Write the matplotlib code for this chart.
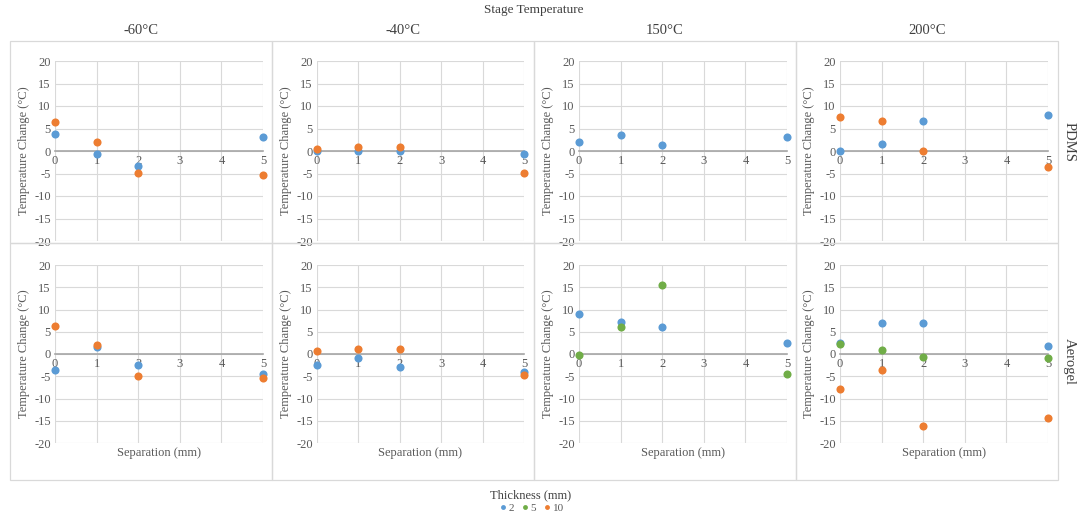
import matplotlib.pyplot as plt
from matplotlib.lines import Line2D
from matplotlib.patches import Rectangle

plt.rcParams['font.family'] = ['Liberation Serif', 'DejaVu Serif']
plt.rcParams['axes.unicode_minus'] = False

# Data
temps = ['-60°C', '-40°C', '150°C', '200°C']
materials = ['PDMS', 'Aerogel']
separation = [0, 1, 2, 5]
thickness_labels = ['2', '5', '10']
colors = ['#5B9BD5', '#70AD47', '#ED7D31']

# one list per stage temperature, values at each separation
pdms_t2 = [[3.85, -0.7, -3.4, 3.2], [0.0, -0.1, -0.1, -0.75],
           [2.1, 3.5, 1.3, 3.2], [0.0, 1.6, 6.6, 8.1]]
pdms_t5 = [None, None, None, None]
pdms_t10 = [[6.4, 2.0, -4.9, -5.3], [0.5, 1.0, 0.9, -4.9],
            None, [7.6, 6.6, -0.1, -3.5]]
aerogel_t2 = [[-3.6, 1.5, -2.5, -4.5], [-2.5, -1.0, -2.85, -4.0],
              [9.1, 7.3, 6.1, 2.5], [2.4, 7.0, 6.9, 1.8]]
aerogel_t5 = [None, None, [-0.3, 6.1, 15.4, -4.6], [2.3, 1.0, -0.6, -1.0]]
aerogel_t10 = [[6.4, 2.1, -4.9, -5.3], [0.6, 1.1, 1.05, -4.8],
               None, [-7.9, -3.7, -16.1, -14.4]]

series = {
    'PDMS': [pdms_t2, pdms_t5, pdms_t10],
    'Aerogel': [aerogel_t2, aerogel_t5, aerogel_t10],
}

W, H = 1089, 519
fig = plt.figure(figsize=(W / 100, H / 100), dpi=100)

def fx(x):
    return x / W

def fy(y):
    return 1 - y / H

# panel boxes (pixels)
col_box = [(10, 272), (272, 534), (534, 796), (796, 1058)]
row_box = [(41, 243), (243, 480)]
# plot areas (pixels)
col_plot = [(55, 263), (317, 524), (579, 787), (840, 1048)]
row_plot = [(61, 241), (265, 443)]

grid_c = '#D9D9D9'
text_c = '#595959'

for (x0, x1) in col_box:
    for (y0, y1) in row_box:
        fig.patches.append(Rectangle((fx(x0), fy(y1)), fx(x1 - x0), (y1 - y0) / H,
                                     transform=fig.transFigure, fill=False,
                                     edgecolor=grid_c, linewidth=0.9))

for r, mat in enumerate(materials):
    for c, temp in enumerate(temps):
        px0, px1 = col_plot[c]
        py0, py1 = row_plot[r]
        ax = fig.add_axes([fx(px0), fy(py1), fx(px1 - px0), (py1 - py0) / H])
        ax.set_xlim(0, 5)
        ax.set_ylim(-20, 20)
        ax.set_xticks(range(6))
        ax.set_yticks(range(-20, 21, 5))
        ax.grid(True, color=grid_c, linewidth=0.8)
        ax.set_axisbelow(True)
        for s in ['top', 'right', 'left']:
            ax.spines[s].set_visible(False)
        ax.spines['bottom'].set_position(('data', 0))
        ax.spines['bottom'].set_color('#A6A6A6')
        ax.spines['bottom'].set_linewidth(1.2)
        ax.tick_params(length=0, labelsize=9, colors=text_c, pad=3)
        ax.set_ylabel('Temperature Change (°C)', fontsize=9, color=text_c, labelpad=3)
        if r == 1:
            ax.set_xlabel('Separation (mm)', fontsize=9, color=text_c, labelpad=2)
            ax.xaxis.set_label_coords(0.5, -0.02)
        for k, data in enumerate(series[mat]):
            vals = data[c]
            if vals is None:
                continue
            ax.scatter(separation, vals, s=34, color=colors[k], zorder=3,
                       clip_on=False, linewidths=0)
        if r == 0:
            fig.text(fx((col_box[c][0] + col_box[c][1]) / 2), fy(31), temp,
                     ha='center', va='center', fontsize=10.5, color='#404040')
    fig.text(fx(1069), fy((row_box[r][0] + row_box[r][1]) / 2), mat,
             ha='center', va='center', rotation=270, fontsize=10.5, color='#404040')

fig.text(fx(534), fy(10), 'Stage Temperature', ha='center', va='center',
         fontsize=9.5, color='#404040')

handles = [Line2D([], [], marker='o', linestyle='none', markersize=3.5,
                  markerfacecolor=col, markeredgewidth=0, label=lab)
           for col, lab in zip(colors, thickness_labels)]
leg = fig.legend(handles=handles, loc='center', bbox_to_anchor=(fx(531), fy(501)),
                 ncol=3, frameon=False, fontsize=8, title='Thickness (mm)',
                 title_fontsize=9, handletextpad=0.1, columnspacing=0.6,
                 handlelength=0.8, borderpad=0.1, labelspacing=0.2)
for t in leg.get_texts():
    t.set_color(text_c)
leg.get_title().set_color('#404040')

fig.savefig('out.png', dpi=100)
